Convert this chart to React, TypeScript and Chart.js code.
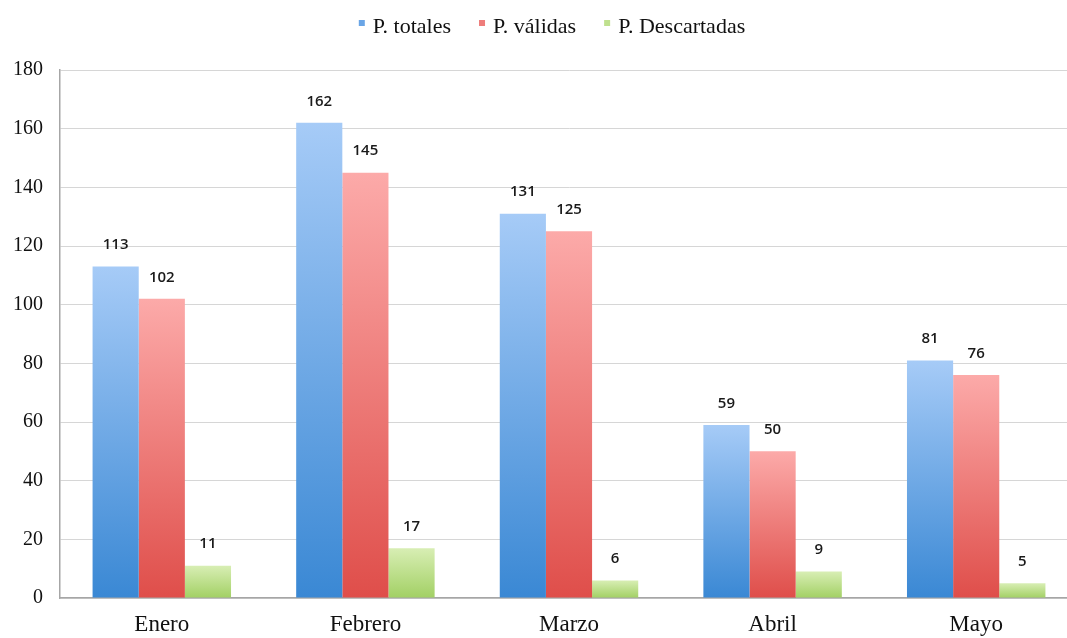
import React, { useEffect, useRef } from "react";
import { Chart, registerables } from "chart.js";

Chart.register(...registerables);

const categories = ["Enero", "Febrero", "Marzo", "Abril", "Mayo"];
const totales = [113, 162, 131, 59, 81];
const validas = [102, 145, 125, 50, 76];
const descartadas = [11, 17, 6, 9, 5];
const yTicks = [0, 20, 40, 60, 80, 100, 120, 140, 160, 180];
const seriesNames = ["P. totales", "P. válidas", "P. Descartadas"];

const gradients: Record<string, [string, string]> = {
  blue: ["#a6cbf7", "#3a88d4"],
  red: ["#fcaaa9", "#df4e4a"],
  green: ["#d8eeb4", "#a2d064"],
};
const legendColors = ["#6aa5e6", "#ee7d7b", "#bfe08e"];

function grad(key: string) {
  return (ctx: any) => {
    const chart = ctx.chart;
    const area = chart.chartArea;
    const y = chart.scales && chart.scales.y;
    if (!area || !y || ctx.raw == null) return gradients[key][1];
    const top = y.getPixelForValue(ctx.raw);
    const bottom = y.getPixelForValue(0);
    const g = chart.ctx.createLinearGradient(0, top, 0, bottom);
    g.addColorStop(0, gradients[key][0]);
    g.addColorStop(1, gradients[key][1]);
    return g;
  };
}

const valueLabels = {
  id: "valueLabels",
  afterDatasetsDraw(chart: any) {
    const ctx = chart.ctx;
    ctx.save();
    ctx.font = "600 15px 'Open Sans', sans-serif";
    ctx.fillStyle = "#1a1a1a";
    ctx.textAlign = "center";
    ctx.textBaseline = "middle";
    chart.data.datasets.forEach((ds: any, i: number) => {
      const meta = chart.getDatasetMeta(i);
      meta.data.forEach((bar: any, j: number) => {
        ctx.fillText(String(ds.data[j]), bar.x, bar.y - 21.5);
      });
    });
    ctx.restore();
  },
};

const customLegend = {
  id: "customLegend",
  afterDraw(chart: any) {
    const ctx = chart.ctx;
    ctx.save();
    ctx.font = "22px 'Liberation Serif', serif";
    ctx.textBaseline = "alphabetic";
    ctx.textAlign = "left";
    const box = 6;
    const gapText = 8;
    const gapItem = 28;
    const widths = seriesNames.map((s) => ctx.measureText(s).width);
    const total =
      widths.reduce((a, b) => a + b, 0) + seriesNames.length * (box + gapText) + gapItem * (seriesNames.length - 1);
    let x = 552 - total / 2;
    const baseline = 33;
    seriesNames.forEach((s, i) => {
      ctx.fillStyle = legendColors[i];
      ctx.fillRect(x, 20, box, box);
      x += box + gapText;
      ctx.fillStyle = "#111";
      ctx.fillText(s, x, baseline);
      x += widths[i] + gapItem;
    });
    ctx.restore();
  },
};

export default function App() {
  const ref = useRef<HTMLCanvasElement>(null);
  useEffect(() => {
    document.body.style.margin = "0";
    const chart = new Chart(ref.current!, {
      type: "bar",
      data: {
        labels: categories,
        datasets: [
          { label: seriesNames[0], data: totales, backgroundColor: grad("blue") },
          { label: seriesNames[1], data: validas, backgroundColor: grad("red") },
          { label: seriesNames[2], data: descartadas, backgroundColor: grad("green") },
        ],
      },
      options: {
        animation: false,
        responsive: false,
        layout: { padding: { left: 0, right: 26, top: 70, bottom: 0 } },
        datasets: { bar: { categoryPercentage: 0.68, barPercentage: 1.0 } },
        plugins: {
          legend: { display: false },
          tooltip: { enabled: false },
        },
        scales: {
          x: {
            grid: { display: false, drawTicks: false },
            border: { color: "#a6a6a6", width: 1.5 },
            ticks: {
              color: "#111",
              font: { family: "'Liberation Serif', serif", size: 23 },
              padding: 13,
            },
            afterFit: (s: any) => {
              s.height = 40;
            },
          },
          y: {
            min: 0,
            max: 180,
            afterBuildTicks: (s: any) => {
              s.ticks = yTicks.map((v) => ({ value: v }));
            },
            grid: { color: "#d6d6d6", drawTicks: false },
            border: { color: "#a6a6a6", width: 1.5 },
            ticks: {
              color: "#111",
              font: { family: "'Liberation Serif', serif", size: 20 },
              padding: 17,
            },
            afterFit: (s: any) => {
              s.width = 60;
            },
          },
        },
      },
      plugins: [valueLabels, customLegend],
    });
    return () => chart.destroy();
  }, []);
  return (
    <div style={{ width: 1067, height: 638, overflow: "hidden" }}>
      <canvas ref={ref} width={1104} height={638} style={{ display: "block" }} />
    </div>
  );
}
